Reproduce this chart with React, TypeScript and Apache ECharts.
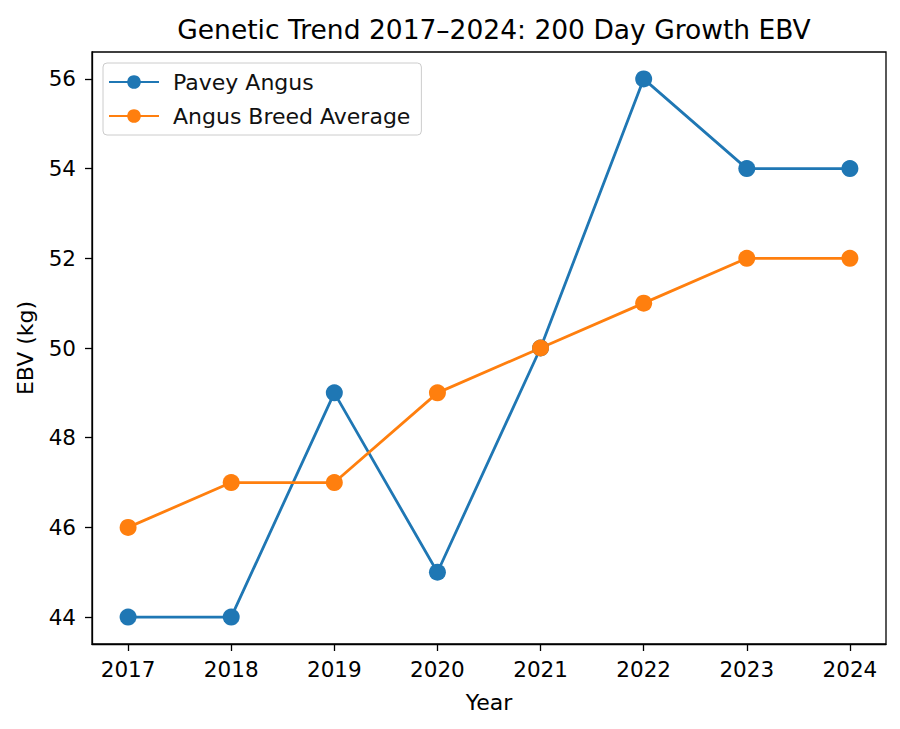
import React, { useEffect, useRef } from "react";
import * as echarts from "echarts";

const years = [2017, 2018, 2019, 2020, 2021, 2022, 2023, 2024];
const paveyAngus = [44, 44, 49, 45, 50, 56, 54, 54];
const breedAverage = [46, 47, 47, 49, 50, 51, 52, 52];
const yTicks = [44, 46, 48, 50, 52, 54, 56];

const FONT = "DejaVu Sans";

export default function App() {
  const ref = useRef<HTMLDivElement>(null);
  useEffect(() => {
    document.body.style.margin = "0";
    const chart = echarts.init(ref.current!, null, { renderer: "svg" });
    chart.setOption({
      animation: false,
      backgroundColor: "#fff",
      textStyle: { fontFamily: FONT },
      title: {
        text: "Genetic Trend 2017–2024: 200 Day Growth EBV",
        left: 489,
        top: 11,
        textAlign: "center",
        textStyle: { fontFamily: FONT, fontSize: 26.5, fontWeight: "normal", color: "#000" },
      },
      grid: {
        left: 92,
        right: 14,
        top: 52,
        bottom: 85,
        show: true,
        borderColor: "#000",
        borderWidth: 1.3,
        backgroundColor: "transparent",
      },
      legend: {
        orient: "vertical",
        left: 103,
        top: 63,
        padding: [8, 11, 8, 5],
        itemGap: 12,
        itemWidth: 50,
        itemHeight: 17,
        backgroundColor: "#fff",
        borderColor: "#ccc",
        borderWidth: 1,
        borderRadius: 4,
        textStyle: { fontFamily: FONT, fontSize: 22, color: "#111", padding: [0, 0, 0, 9] },
        data: ["Pavey Angus", "Angus Breed Average"],
      },
      xAxis: {
        type: "value",
        min: 2016.65,
        max: 2024.35,
        name: "Year",
        nameLocation: "middle",
        nameGap: 47,
        nameTextStyle: { fontFamily: FONT, fontSize: 22, color: "#000" },
        axisLine: { show: true, lineStyle: { color: "#000", width: 1.3 } },
        axisTick: { show: true, inside: false, length: 7, customValues: years, lineStyle: { color: "#000", width: 1.3 } },
        axisLabel: {
          customValues: years,
          margin: 14,
          fontFamily: FONT,
          fontSize: 21.5,
          color: "#000",
          formatter: (v: number) => String(v),
        },
        splitLine: { show: false },
      },
      yAxis: {
        type: "value",
        min: 43.4,
        max: 56.6,
        name: "EBV (kg)",
        nameLocation: "middle",
        nameGap: 56,
        nameTextStyle: { fontFamily: FONT, fontSize: 22, color: "#000" },
        axisLine: { show: true, lineStyle: { color: "#000", width: 1.3 } },
        axisTick: { show: true, inside: false, length: 7, customValues: yTicks, lineStyle: { color: "#000", width: 1.3 } },
        axisLabel: {
          customValues: yTicks,
          margin: 16,
          fontFamily: FONT,
          fontSize: 21.5,
          color: "#000",
          formatter: (v: number) => String(v),
        },
        splitLine: { show: false },
      },
      series: [
        {
          name: "Pavey Angus",
          type: "line",
          data: years.map((y, i) => [y, paveyAngus[i]]),
          symbol: "circle",
          symbolSize: 17,
          color: "#1f77b4",
          lineStyle: { width: 2.8, color: "#1f77b4" },
          itemStyle: { color: "#1f77b4" },
        },
        {
          name: "Angus Breed Average",
          type: "line",
          data: years.map((y, i) => [y, breedAverage[i]]),
          symbol: "circle",
          symbolSize: 17,
          color: "#ff7f0e",
          lineStyle: { width: 2.8, color: "#ff7f0e" },
          itemStyle: { color: "#ff7f0e" },
        },
      ],
    });
    return () => chart.dispose();
  }, []);
  return <div ref={ref} style={{ width: 900, height: 729 }} />;
}
